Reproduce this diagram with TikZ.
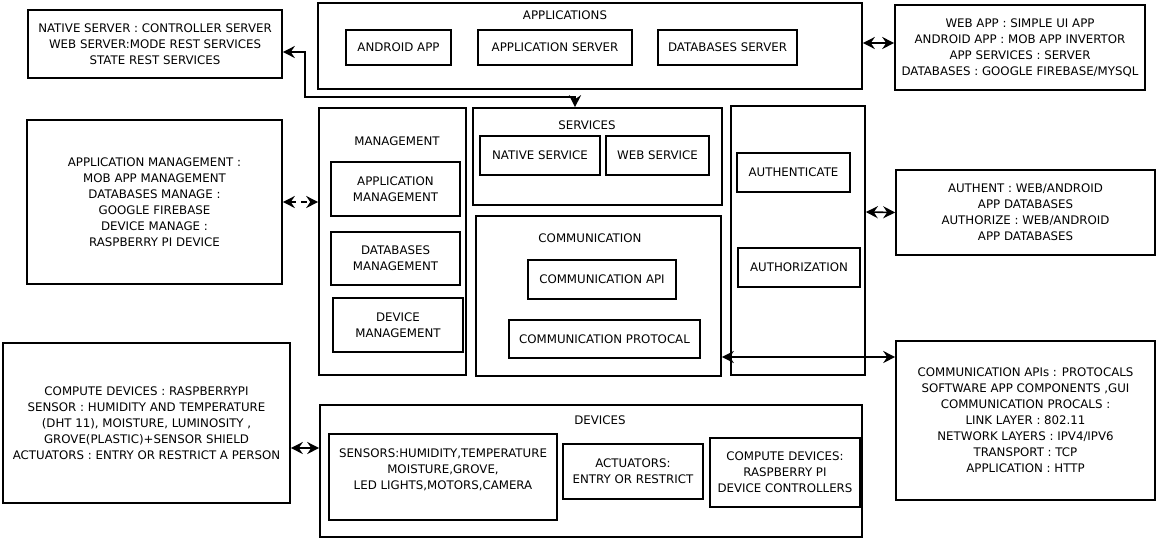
\documentclass[tikz,border=0pt]{standalone}
\usepackage{fontspec}
\setmainfont{DejaVu Sans}
\usetikzlibrary{arrows.meta}
\begin{document}
\begin{tikzpicture}[x=1pt,y=-1pt,
  every node/.style={font=\fontsize{11.8}{16}\selectfont},
  box/.style={draw,line width=1.6pt,inner sep=0pt,align=center},
  txt/.style={inner sep=0pt,align=center},
  tip/.tip={Stealth[length=12pt,width=12pt,inset=4pt]},
  arr/.style={line width=1.6pt,tip-tip}]
\useasboundingbox (0,0) rectangle (1159,541);

% ---------- applications row ----------
\node[box,minimum width=254pt,minimum height=68pt] (nsrv) at (155,44)
  {NATIVE SERVER : CONTROLLER SERVER\\WEB SERVER:MODE REST SERVICES\\STATE REST SERVICES};
\node[box,minimum width=544pt,minimum height=86pt] (apps) at (590,46) {};
\node[txt] (appsT) at (565,15) {APPLICATIONS};
\node[box,minimum width=105pt,minimum height=35pt] (android) at (398.5,47.5) {ANDROID APP};
\node[box,minimum width=154pt,minimum height=35pt] (appsrv) at (555,47.5) {APPLICATION SERVER};
\node[box,minimum width=139pt,minimum height=35pt] (dbsrv) at (727.5,47.5) {DATABASES SERVER};
\node[box,minimum width=250pt,minimum height=85pt] (webapp) at (1020,47.5)
  {WEB APP : SIMPLE UI APP\\ANDROID APP : MOB APP INVERTOR\\APP SERVICES : SERVER\\DATABASES : GOOGLE FIREBASE/MYSQL};

% ---------- management ----------
\node[box,minimum width=255pt,minimum height=164pt] (mgdesc) at (154.5,202)
  {APPLICATION MANAGEMENT :\\MOB APP MANAGEMENT\\DATABASES MANAGE :\\GOOGLE FIREBASE\\DEVICE MANAGE :\\RASPBERRY PI DEVICE};
\node[box,minimum width=147pt,minimum height=267pt] (mgmt) at (392.5,241.5) {};
\node[txt] (mgmtT) at (397,141) {MANAGEMENT};
\node[box,minimum width=129pt,minimum height=54pt] (appmg) at (395.5,189) {APPLICATION\\MANAGEMENT};
\node[box,minimum width=129pt,minimum height=53pt] (dbmg) at (395.5,258.5) {DATABASES\\MANAGEMENT};
\node[box,minimum width=130pt,minimum height=54pt] (devmg) at (398,325) {DEVICE\\MANAGEMENT};

% ---------- services ----------
\node[box,minimum width=249pt,minimum height=97pt] (svc) at (597.5,156.5) {};
\node[txt] (svcT) at (587,125) {SERVICES};
\node[box,minimum width=120pt,minimum height=39pt] (nsvc) at (540,155.5) {NATIVE SERVICE};
\node[box,minimum width=103pt,minimum height=39pt] (wsvc) at (657.5,155.5) {WEB SERVICE};

% ---------- communication ----------
\node[box,minimum width=245pt,minimum height=160pt] (comm) at (598.5,296) {};
\node[txt] (commT) at (590,238) {COMMUNICATION};
\node[box,minimum width=148pt,minimum height=39pt] (capi) at (602,279.5) {COMMUNICATION API};
\node[box,minimum width=191pt,minimum height=38pt] (cproto) at (604.5,339) {COMMUNICATION PROTOCAL};

% ---------- auth ----------
\node[box,minimum width=134pt,minimum height=269pt] (auth) at (798,240.5) {};
\node[box,minimum width=113pt,minimum height=39pt] (authn) at (793.5,172.5) {AUTHENTICATE};
\node[box,minimum width=122pt,minimum height=39pt] (authz) at (799,267.5) {AUTHORIZATION};
\node[box,minimum width=259pt,minimum height=85pt] (audesc) at (1025.5,212.5)
  {AUTHENT : WEB/ANDROID\\APP DATABASES\\AUTHORIZE : WEB/ANDROID\\APP DATABASES};
\node[box,minimum width=259pt,minimum height=159pt] (cmdesc) at (1025.5,420.5)
  {COMMUNICATION APIs : PROTOCALS\\SOFTWARE APP COMPONENTS ,GUI\\COMMUNICATION PROCALS :\\LINK LAYER : 802.11\\NETWORK LAYERS : IPV4/IPV6\\TRANSPORT : TCP\\APPLICATION : HTTP};

% ---------- devices ----------
\node[box,minimum width=287pt,minimum height=160pt] (dvdesc) at (146.5,423)
  {COMPUTE DEVICES : RASPBERRYPI\\SENSOR : HUMIDITY AND TEMPERATURE\\(DHT 11), MOISTURE, LUMINOSITY ,\\GROVE(PLASTIC)+SENSOR SHIELD\\ACTUATORS : ENTRY OR RESTRICT A PERSON};
\node[box,minimum width=542pt,minimum height=132pt] (dev) at (591,471) {};
\node[txt] (devT) at (600,420) {DEVICES};
\node[box,minimum width=228pt,minimum height=86pt] (sens) at (443,477) {};
\node[txt] (sensT) at (443,470) {SENSORS:HUMIDITY,TEMPERATURE\\MOISTURE,GROVE,\\LED LIGHTS,MOTORS,CAMERA};
\node[box,minimum width=140pt,minimum height=55pt] (act) at (633,471.5) {ACTUATORS:\\ENTRY OR RESTRICT};
\node[box,minimum width=150pt,minimum height=69pt] (comp) at (785,472.5) {COMPUTE DEVICES:\\RASPBERRY PI\\DEVICE CONTROLLERS};

% ---------- connectors ----------
\coordinate (bend) at (305,97);
\draw[arr] ([yshift=-8pt]nsrv.east) -| (bend) -| ([xshift=-22.5pt]svc.north);
\draw[arr] ([yshift=3pt]apps.east) -- ([yshift=4.5pt]webapp.west);
\draw[arr,dash pattern=on 6pt off 5pt] (mgdesc.east) -- (mgdesc.east -| mgmt.west);
\draw[arr] ([yshift=28.5pt]auth.east) -- (audesc.west);
\draw[arr] ([yshift=-61pt]comm.east) -- ([yshift=63.5pt]cmdesc.west);
\draw[arr] ([yshift=-25pt]dvdesc.east) -- ([yshift=23pt]dev.west);
\end{tikzpicture}
\end{document}
